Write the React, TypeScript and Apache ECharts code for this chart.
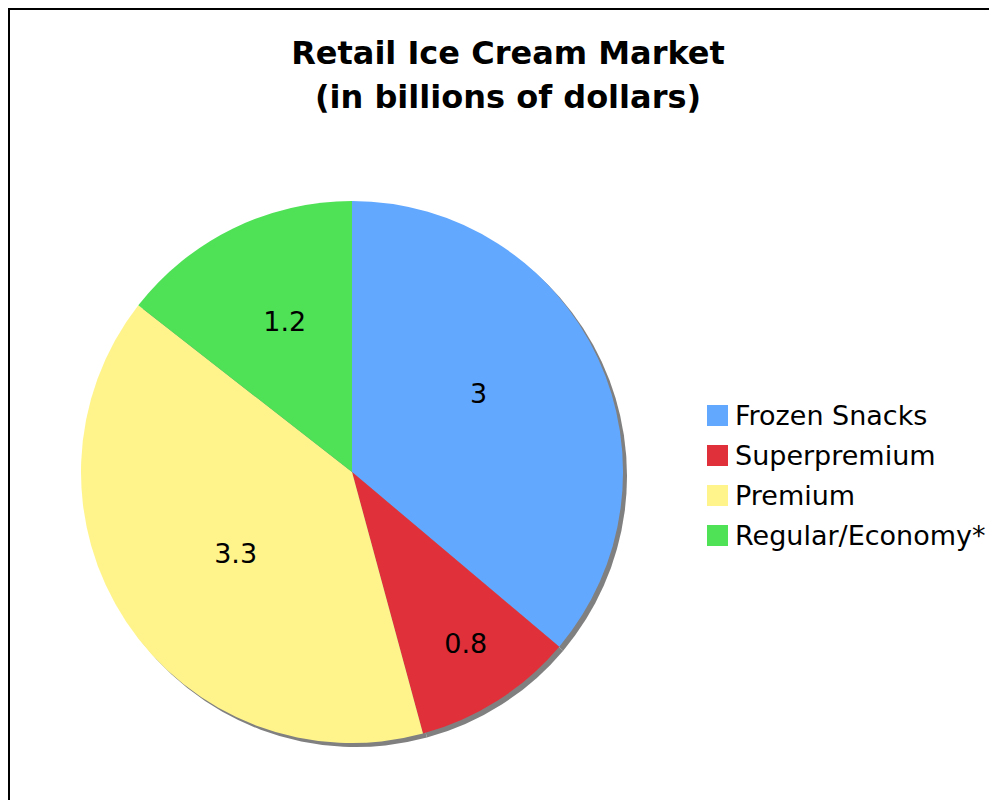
import React, { useEffect, useRef } from "react";
import * as echarts from "echarts";

const TITLE_LINES = ["Retail Ice Cream Market", "(in billions of dollars)"];
const categories = ["Frozen Snacks", "Superpremium", "Premium", "Regular/Economy*"];
const values = [3, 0.8, 3.3, 1.2];
const colors = ["#63A8FF", "#E0303A", "#FFF48C", "#4FE257"];
// placement of value labels: fraction of the radius, and angular nudge in degrees
const labelRadiusFrac = [0.55, 0.76, 0.525, 0.61];
const labelAngleNudge = [-7, -1, -1.5, 2];

const CX = 342;
const CY = 462;
const R = 271;

export default function App() {
  const ref = useRef<HTMLDivElement>(null);
  useEffect(() => {
    if (!ref.current) return;
    const chart = echarts.init(ref.current, null, { renderer: "svg" });
    const total = values.reduce((a, b) => a + b, 0);
    const mids: number[] = [];
    let acc = 0;
    values.forEach((v, i) => {
      mids.push(((acc + v / 2) / total) * Math.PI * 2 + (labelAngleNudge[i] * Math.PI) / 180);
      acc += v;
    });
    chart.setOption({
      animation: false,
      backgroundColor: "#ffffff",
      title: {
        text: TITLE_LINES.join("\n"),
        left: 493,
        textAlign: "center",
        top: 16,
        textStyle: {
          fontFamily: "Verdana, 'DejaVu Sans', sans-serif",
          fontWeight: "bold",
          fontSize: 32,
          lineHeight: 44,
          color: "#000",
        },
      },
      legend: {
        orient: "vertical",
        left: 697,
        top: 392,
        padding: 0,
        icon: "rect",
        itemWidth: 21,
        itemHeight: 21,
        itemGap: 13,
        data: categories,
        textStyle: {
          fontFamily: "Verdana, 'DejaVu Sans', sans-serif",
          fontSize: 27,
          lineHeight: 24,
          color: "#000",
          padding: [0, 0, 0, 2],
        },
      },
      series: [
        {
          type: "pie",
          silent: true,
          center: [CX + 4, CY + 4],
          radius: R,
          startAngle: 90,
          clockwise: true,
          label: { show: false },
          labelLine: { show: false },
          itemStyle: { color: "#808080", borderWidth: 0 },
          data: values.map((v, i) => ({ name: "shadow" + i, value: v })),
          legendHoverLink: false,
        },
        {
          type: "pie",
          center: [CX, CY],
          radius: R,
          startAngle: 90,
          clockwise: true,
          itemStyle: { borderWidth: 0 },
          label: {
            show: true,
            position: "inside",
            formatter: (p: any) => String(p.value),
            fontFamily: "Verdana, 'DejaVu Sans', sans-serif",
            fontSize: 27,
            color: "#000",
          },
          labelLine: { show: false },
          labelLayout: (p: any) => {
            const i = p.dataIndex;
            const d = R * labelRadiusFrac[i];
            return {
              x: CX + d * Math.sin(mids[i]),
              y: CY - d * Math.cos(mids[i]),
              align: "center",
              verticalAlign: "middle",
            };
          },
          data: categories.map((c, i) => ({
            name: c,
            value: values[i],
            itemStyle: { color: colors[i] },
          })),
        },
      ],
    });
    return () => chart.dispose();
  }, []);
  return (
    <div style={{ border: "2px solid #000", width: 1000, height: 800 }}>
      <div ref={ref} style={{ width: 1000, height: 800 }} />
    </div>
  );
}
